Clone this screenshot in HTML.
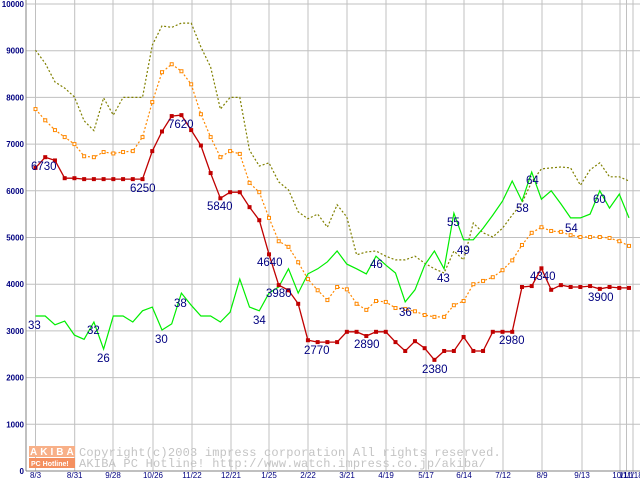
<!DOCTYPE html>
<html><head><meta charset="utf-8"><style>
html,body{margin:0;padding:0;background:#fff;}
svg{display:block;}
text{font-family:"Liberation Sans",sans-serif;}
</style></head><body>
<svg id="chart" width="640" height="480" viewBox="0 0 640 480" xmlns="http://www.w3.org/2000/svg">
<g id="grid"></g>
<g id="watermark">
  <rect x="29" y="446" width="46" height="11" fill="#f8b088"/>
  <text x="30" y="455" font-size="10" fill="#fff" font-weight="bold" letter-spacing="3">AKIBA</text>
  <rect x="29" y="458" width="46" height="10" fill="#f49060"/>
  <text x="31" y="466" font-size="7" fill="#fff" font-weight="bold">PC Hotline!</text>
  <text x="79" y="456" font-size="12" fill="#c4c4c4" style="font-family:'Liberation Mono',monospace" letter-spacing="0.2">Copyright(c)2003 impress corporation All rights reserved.</text>
  <text x="79" y="467" font-size="12" fill="#c4c4c4" style="font-family:'Liberation Mono',monospace" letter-spacing="0.2">AKIBA PC Hotline!  http://www.watch.impress.co.jp/akiba/</text>
</g>
<g id="series"></g>
<g id="labels"></g>
</svg>
<script>
const xTickLabels = ["8/3","8/31","9/28","10/26","11/22","12/21","1/25","2/22","3/21","4/19","5/17","6/14","7/12","8/9","9/13","10/1","11/1","11/18"];
const xTickPos = [35.5,74.7,113,153,192,231,269,308,347,386,426,464,503,542,582,620,626.5,633];
const yTicks = [0,1000,2000,3000,4000,5000,6000,7000,8000,9000,10000];
const redValues = [6490,6720,6650,6270,6270,6250,6250,6250,6250,6250,6250,6250,6850,7270,7600,7620,7300,6970,6380,5840,5970,5970,5650,5370,4640,3980,3870,3580,2800,2760,2760,2760,2980,2980,2890,2980,2980,2760,2570,2780,2630,2380,2570,2570,2870,2570,2570,2980,2980,2980,3940,3960,4340,3880,3980,3940,3940,3960,3900,3940,3920,3920];
const orangeValues = [7750,7510,7300,7150,7000,6740,6720,6830,6800,6830,6850,7150,7900,8540,8710,8560,8280,7640,7150,6720,6850,6790,6170,5970,5420,4920,4800,4470,4110,3870,3660,3940,3890,3580,3450,3640,3620,3490,3470,3420,3340,3300,3300,3550,3640,4000,4070,4150,4300,4510,4840,5100,5220,5140,5120,5050,5010,5010,5010,4990,4920,4820];
const oliveValues = [9010,8730,8330,8200,8010,7500,7290,7990,7620,8000,8000,8000,9120,9530,9500,9590,9590,9080,8650,7750,8000,8000,6870,6530,6600,6190,6020,5550,5400,5500,5220,5700,5440,4630,4690,4710,4600,4520,4520,4600,4450,4330,4240,4710,4520,5310,5100,5010,5200,5480,5740,6190,6470,6490,6510,6490,6120,6450,6600,6300,6300,6210];
const greenValues = [3320,3320,3130,3210,2910,2820,3190,2610,3320,3320,3190,3430,3510,3020,3150,3810,3550,3320,3320,3190,3400,4110,3510,3430,3810,3940,4330,3810,4220,4330,4480,4710,4430,4330,4220,4600,4410,4240,3620,3880,4410,4710,4330,5520,4950,4950,5200,5480,5780,6210,5780,6400,5820,6000,5720,5420,5420,5500,6000,5630,5930,5420];
const redLabels = [["6730",0,170,31],["6250",11,192,130],["7620",15,128,168],["5840",19,210,207],["4640",24,266,257],["3980",25,297,266],["2770",29,354,304],["2890",34,348,354],["2380",41,373,422],["2980",49,344,499],["4340",52,280,530],["3900",58,301,588]];
const greenLabels = [["33",0,329,28],["32",6,334,87],["26",7,362,97],["30",12,343,155],["38",15,307,174],["34",22,324,253],["46",33,268,370],["36",37,316,399],["43",41,282,437],["55",43,226,447],["49",44,254,457],["58",49,212,516],["64",51,184,526],["54",55,232,565],["60",58,203,593]];

const NS="http://www.w3.org/2000/svg";
const X0=35.5, X1=629, Y0=471, YTOP=4, VMAX=10000;
function xAt(i){return X0 + i*(X1-X0)/(redValues.length-1);}
function yAt(v){return Y0 - v*(Y0-YTOP)/VMAX;}
function mk(tag,attrs,parent){const e=document.createElementNS(NS,tag);for(const k in attrs)e.setAttribute(k,attrs[k]);parent.appendChild(e);return e;}

const grid=document.getElementById('grid');
yTicks.forEach(v=>{
  const l=mk('line',{x1:26,x2:640,y1:yAt(v),y2:yAt(v),stroke:'#c0c0c0','stroke-width':1},grid);
  
  
  const t=mk('text',{x:24,y:yAt(v)+3,'text-anchor':'end','font-size':8,'font-weight':'bold',fill:'#000080'},grid);
  t.textContent=String(v);
  
  
});
xTickLabels.forEach((lab,k)=>{
  const x=xTickPos[k];
  const l=mk('line',{x1:x,x2:x,y1:0,y2:Y0,stroke:'#c0c0c0','stroke-width':1},grid);
  
  
  const t=mk('text',{x:x,y:478,'text-anchor':'middle','font-size':8,fill:'#000080'},grid);
  t.textContent=lab;
  
  
});
const ax=mk('line',{x1:26,x2:26,y1:0,y2:Y0,stroke:'#808080','stroke-width':1},grid);


const bx=mk('line',{x1:26,x2:640,y1:Y0,y2:Y0,stroke:'#808080','stroke-width':1},grid);



const series=document.getElementById('series');
function pts(vals){return vals.map((v,i)=>xAt(i).toFixed(1)+','+yAt(v).toFixed(1)).join(' ');}
const olive=mk('polyline',{points:pts(oliveValues),fill:'none',stroke:'#808000','stroke-width':1.2,'stroke-dasharray':'2,2'},series);


const green=mk('polyline',{points:pts(greenValues),fill:'none',stroke:'#00ee00','stroke-width':1.2},series);


const orange=mk('polyline',{points:pts(orangeValues),fill:'none',stroke:'#ff8800','stroke-width':1.2,'stroke-dasharray':'2,2'},series);


orangeValues.forEach((v,i)=>{
  const r=mk('rect',{x:xAt(i)-1.5,y:yAt(v)-1.5,width:3,height:3,fill:'#fff',stroke:'#ff8800','stroke-width':1},series);
  
  
});
const red=mk('polyline',{points:pts(redValues),fill:'none',stroke:'#c00000','stroke-width':1.3},series);


redValues.forEach((v,i)=>{
  const r=mk('rect',{x:xAt(i)-2,y:yAt(v)-2,width:4,height:4,fill:'#c00000'},series);
  
  
});

const labels=document.getElementById('labels');
redLabels.concat(greenLabels).forEach(([txt,i,y,x])=>{
  const t=mk('text',{x:x,y:y,'font-size':11.5,fill:'#000080'},labels);
  t.textContent=txt;
  
  
});
</script>
</body></html>
